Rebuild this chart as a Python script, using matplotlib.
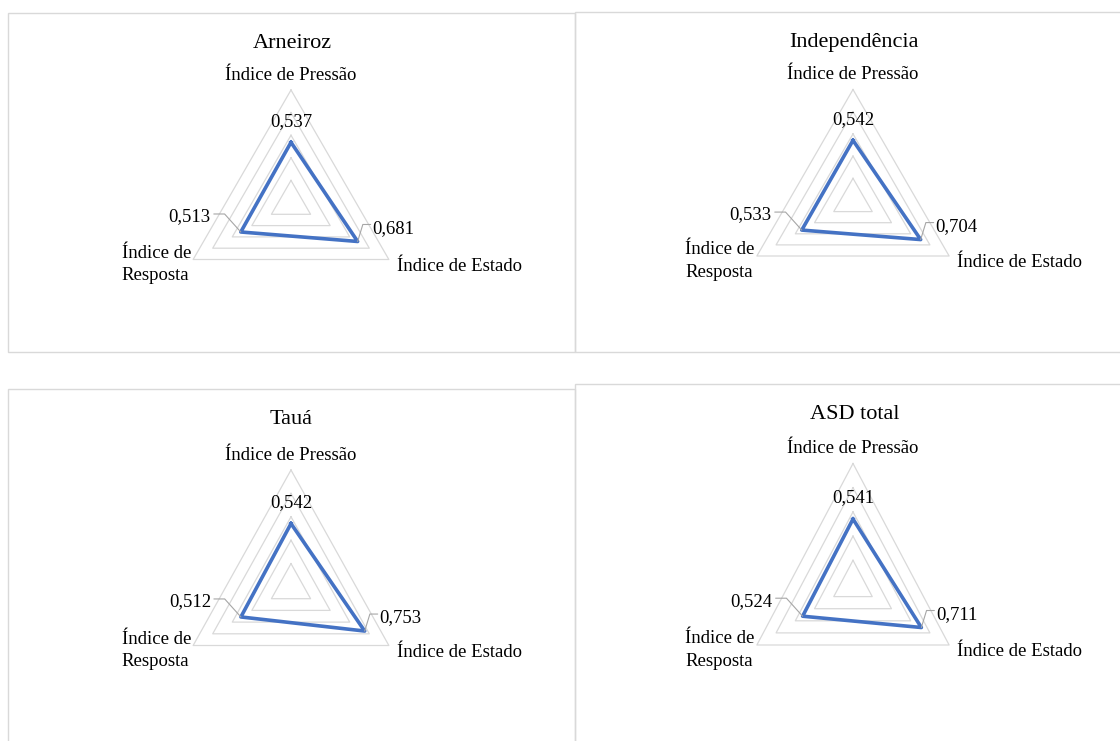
import numpy as np
import matplotlib
matplotlib.use("Agg")
import matplotlib.pyplot as plt
from matplotlib.patches import Rectangle

plt.rcParams['font.family'] = ['Liberation Serif', 'DejaVu Serif']

# ---- data ----
regions = ['Arneiroz', 'Independência', 'Tauá', 'ASD total']
categories = ['Índice de Pressão', 'Índice de Estado', 'Índice de\nResposta']
pressao = [0.537, 0.542, 0.542, 0.541]
estado = [0.681, 0.704, 0.753, 0.711]
resposta = [0.513, 0.533, 0.512, 0.524]
grid_levels = [0.2, 0.4, 0.6, 0.8, 1.0]

# ---- layout (pixels) ----
W, H = 1120, 741
centers = [(291, 203), (853, 200.5), (291, 587), (853, 584.5)]
radii_x = [113, 111, 113, 111]
radii_y = [113, 111, 117, 121]
title_pos = [(292, 43), (854, 42), (291, 420), (855, 414)]
panel_boxes = [(8, 13, 575, 352), (575, 12, 1130, 352),
               (8, 389, 575, 760), (575, 384, 1130, 760)]

BLUE = '#4472C4'
GRID = '#D9D9D9'
LEADER = '#A6A6A6'
FS = 13.5

fig = plt.figure(figsize=(W / 100, H / 100), dpi=100)
fig.patch.set_facecolor('white')

for (x0, y0, x1, y1) in panel_boxes:
    fig.add_artist(Rectangle((x0 / W, 1 - y1 / H), (x1 - x0) / W, (y1 - y0) / H,
                             transform=fig.transFigure, fill=False,
                             edgecolor=GRID, lw=1.0))

theta = np.deg2rad([0, 120, 240])
theta_closed = np.append(theta, theta[0])

def fmt(v):
    return f"{v:.3f}".replace('.', ',')

for i, name in enumerate(regions):
    cx, cy = centers[i]
    rx, ry = radii_x[i], radii_y[i]
    ax = fig.add_axes([(cx - rx) / W, 1 - (cy + ry) / H, 2 * rx / W, 2 * ry / H],
                      projection='polar')
    ax.set_aspect('auto')
    ax.set_theta_zero_location('N')
    ax.set_theta_direction(-1)
    ax.set_ylim(0, 1)
    ax.set_axis_off()

    for lvl in grid_levels:
        ax.plot(theta_closed, [lvl] * 4, color=GRID, lw=0.9, clip_on=False, zorder=1)

    vals = [pressao[i], estado[i], resposta[i]]
    ax.plot(theta_closed, vals + [vals[0]], color=BLUE, lw=2.6,
            solid_joinstyle='round', clip_on=False, zorder=3)

    # category labels
    ax.annotate(categories[0], xy=(theta[0], 1.0), xytext=(0, 15),
                textcoords='offset pixels', ha='center', va='center',
                fontsize=FS, annotation_clip=False)
    ax.annotate(categories[1], xy=(theta[1], 1.0), xytext=(8, -7),
                textcoords='offset pixels', ha='left', va='center',
                fontsize=FS, annotation_clip=False)
    ax.annotate(categories[2], xy=(theta[2], 1.0), xytext=(-2, -5),
                textcoords='offset pixels', ha='right', va='center',
                multialignment='left', fontsize=FS, linespacing=1.4,
                annotation_clip=False)

    # value labels
    ax.annotate(fmt(vals[0]), xy=(theta[0], vals[0]), xytext=(0, 21),
                textcoords='offset pixels', ha='center', va='center',
                fontsize=FS, annotation_clip=False)
    # right (Estado) with leader line
    ax.annotate('', xy=(theta[1], vals[1]), xytext=(13, 17),
                textcoords='offset pixels', annotation_clip=False,
                arrowprops=dict(arrowstyle='-', color=LEADER, lw=0.8,
                                shrinkA=0, shrinkB=0,
                                connectionstyle='angle,angleA=0,angleB=73,rad=0'))
    ax.annotate(fmt(vals[1]), xy=(theta[1], vals[1]), xytext=(15, 13),
                textcoords='offset pixels', ha='left', va='center',
                fontsize=FS, annotation_clip=False)
    # left (Resposta) with leader line
    ax.annotate('', xy=(theta[2], vals[2]), xytext=(-27, 18),
                textcoords='offset pixels', annotation_clip=False,
                arrowprops=dict(arrowstyle='-', color=LEADER, lw=0.8,
                                shrinkA=0, shrinkB=0,
                                connectionstyle='angle,angleA=0,angleB=132,rad=0'))
    ax.annotate(fmt(vals[2]), xy=(theta[2], vals[2]), xytext=(-30, 15),
                textcoords='offset pixels', ha='right', va='center',
                fontsize=FS, annotation_clip=False)

    tx, ty = title_pos[i]
    fig.text(tx / W, 1 - ty / H, name, ha='center', va='center', fontsize=16)

fig.savefig('out.png', dpi=100)
